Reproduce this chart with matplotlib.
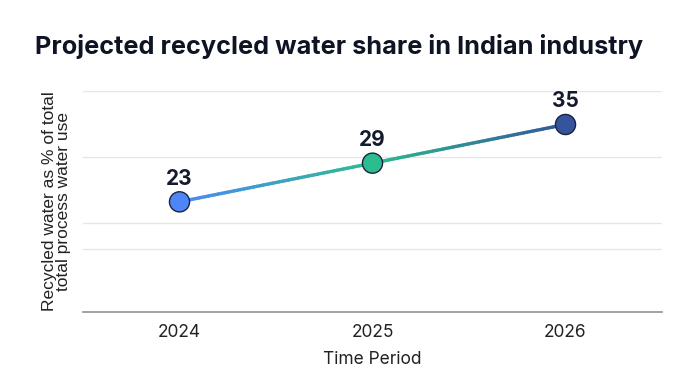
import numpy as np
import matplotlib
matplotlib.use("Agg")
import matplotlib.pyplot as plt
from matplotlib.collections import LineCollection
from matplotlib.colors import to_rgb

plt.rcParams['font.family'] = ['Inter', 'DejaVu Sans']

years = ["2024", "2025", "2026"]
values = [23, 29, 35]
point_colors = ["#4f86f7", "#2bbd8e", "#34559c"]

title = "Projected recycled water share in Indian industry"
ylabel = "Recycled water as % of total\ntotal process water use"
xlabel = "Time Period"

fig = plt.figure(figsize=(7, 3.91), dpi=100)
ax = fig.add_axes([0.1186, 0.2028, 0.8271, 0.5645])

x = np.arange(len(years))
y = np.array(values, dtype=float)

# gradient line: subdivide each straight segment only for colour shading
segs, cols = [], []
n = 60
for i in range(len(x) - 1):
    c0, c1 = np.array(to_rgb(point_colors[i])), np.array(to_rgb(point_colors[i + 1]))
    t = np.linspace(0, 1, n + 1)
    xs = x[i] + (x[i + 1] - x[i]) * t
    ys = y[i] + (y[i + 1] - y[i]) * t
    for k in range(n):
        segs.append([(xs[k], ys[k]), (xs[k + 1], ys[k + 1])])
        tm = (t[k] + t[k + 1]) / 2
        cols.append(c0 + (c1 - c0) * tm)
lc = LineCollection(segs, colors=cols, linewidths=2.4, capstyle='round', zorder=3)
ax.add_collection(lc)

ax.scatter(x, y, s=210, c=point_colors, edgecolors="#1a2340", linewidths=1.0, zorder=4)

for xi, yi in zip(x, y):
    ax.annotate(f"{int(yi)}", (xi, yi), xytext=(0, 9.5), textcoords="offset points",
                ha="center", va="bottom", fontsize=15, fontweight="bold", color="#141b2d")

ax.set_xlim(-0.5, 2.5)
ax.set_ylim(5.95, 40.2)
ax.set_xticks(x)
ax.set_xticklabels(years, fontsize=12.5, color="#222222")
ax.set_yticks([15.7, 19.65, 29.9, 40.2])
ax.set_yticklabels([])
ax.tick_params(axis='y', length=0)
ax.tick_params(axis='x', length=0, pad=9)
ax.grid(axis='y', color="#e6e6e6", linewidth=1.0)
ax.set_axisbelow(True)
for s in ["top", "right", "left"]:
    ax.spines[s].set_visible(False)
ax.spines["bottom"].set_color("#9a9a9a")
ax.spines["bottom"].set_linewidth(1.3)

ax.set_xlabel(xlabel, fontsize=12.5, color="#222222", labelpad=7)
ax.set_ylabel(ylabel, fontsize=12.5, color="#222222", labelpad=5, linespacing=0.95,
              family=['Liberation Sans', 'DejaVu Sans'])

fig.text(0.05, 0.88, title, fontsize=18.2, fontweight="bold", color="#0f1424", ha="left", va="center")

fig.savefig("out.png", dpi=100, facecolor="white")
